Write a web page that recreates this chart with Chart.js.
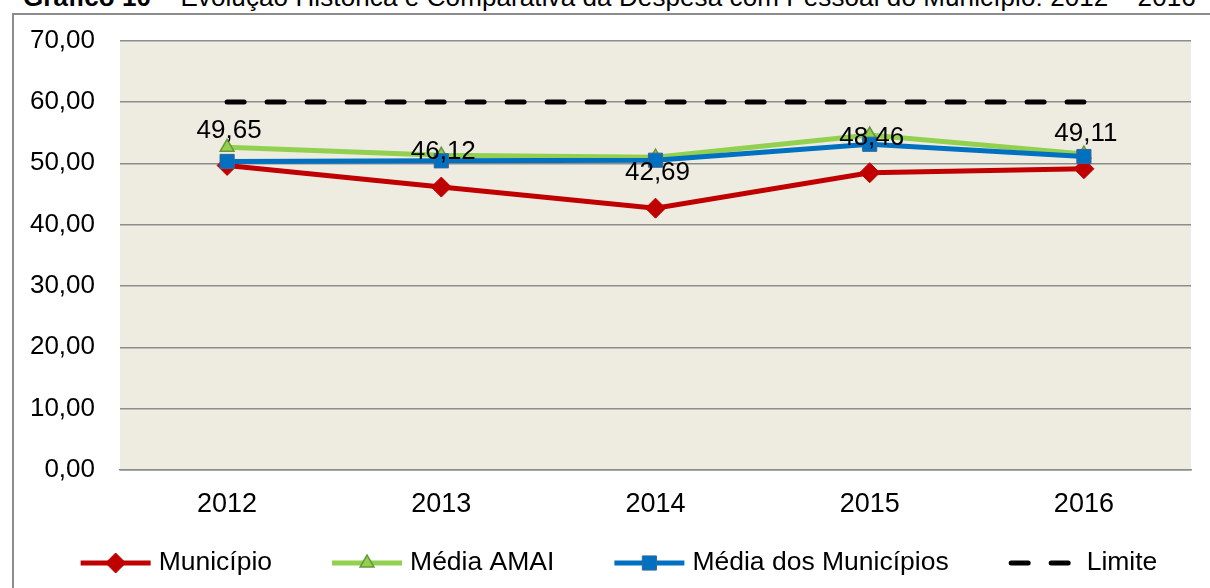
<!DOCTYPE html>
<html lang="pt">
<head>
<meta charset="utf-8">
<title>Despesa com Pessoal 2012 – 2016</title>
<script src="https://cdn.jsdelivr.net/npm/chart.js@4.4.1/dist/chart.umd.min.js"></script>
<style>
  html, body { margin: 0; padding: 0; background: #fff; }
  body { width: 1210px; height: 588px; position: relative; overflow: hidden; font-family: "Liberation Sans", Arial, sans-serif; }
  #titulo { position: absolute; left: 23px; top: -16px; font-size: 26px; line-height: 26px; white-space: nowrap; color: #000; letter-spacing: 0.1px; }
  #moldura { position: absolute; left: 12px; top: 13px; width: 1210px; height: 590px; border-left: 2px solid #8c8c8c; border-top: 2px solid #8c8c8c; }
  #caixa { position: absolute; left: 0; top: 0; width: 1210px; height: 588px; }
</style>
</head>
<body>
<div id="titulo"><b>Gráfico 10</b> – Evolução Histórica e Comparativa da Despesa com Pessoal do Município: 2012 – 2016</div>
<div id="moldura"></div>
<div id="caixa"><canvas id="graficoPessoal"></canvas></div>
<script>
  const anos = ['2012', '2013', '2014', '2015', '2016'];
  const municipio = [49.65, 46.12, 42.69, 48.46, 49.11];
  const mediaAmai = [52.6, 51.3, 51.0, 54.6, 51.5];
  const mediaMunicipios = [50.3, 50.4, 50.5, 53.1, 51.1];
  const limite = [60, 60, 60, 60, 60];
  const eixoY = { min: 0, max: 70, passo: 10 };

  const fonte = '"Liberation Sans", Arial, sans-serif';
  Chart.defaults.font.family = fonte;

  const numeroPt = v => Number(v).toFixed(2).replace('.', ',');

  // fundo bege da área de desenho
  const fundoArea = {
    id: 'fundoArea',
    beforeDraw(chart) {
      const { ctx, chartArea: a } = chart;
      ctx.save();
      ctx.fillStyle = '#EEECE1';
      ctx.fillRect(a.left, a.top, a.right - a.left, a.bottom - a.top);
      ctx.restore();
    }
  };

  // rótulos de valores só para o Município
  const rotulos = {
    id: 'rotulos',
    afterDatasetsDraw(chart) {
      const ctx = chart.ctx;
      const meta = chart.getDatasetMeta(0);
      ctx.save();
      ctx.font = '26px ' + fonte;
      ctx.fillStyle = '#000';
      ctx.textAlign = 'center';
      ctx.textBaseline = 'middle';
      meta.data.forEach((pt, i) => ctx.fillText(numeroPt(municipio[i]), pt.x + 2, pt.y - 35));
      ctx.restore();
    }
  };

  // legenda em baixo, linha + marcador como no Excel
  const legenda = {
    id: 'legenda',
    afterDraw(chart) {
      const ctx = chart.ctx;
      const y = 563;
      const amostra = 70, folga = 8, entre = 60;
      ctx.save();
      ctx.font = '26.5px ' + fonte;
      const itens = chart.data.datasets.map(ds => ({ ds, largura: ctx.measureText(ds.label).width }));
      const total = itens.reduce((s, it) => s + amostra + folga + it.largura, 0) + entre * (itens.length - 1);
      let x = chart.width / 2 + 14 - total / 2;
      itens.forEach(({ ds, largura }) => {
        ctx.save();
        ctx.strokeStyle = ds.borderColor;
        ctx.lineWidth = ds.borderWidth;
        ctx.lineCap = ds.borderDash ? 'round' : 'butt';
        ctx.setLineDash(ds.borderDash || []);
        ctx.lineDashOffset = ds.borderDash ? -2.5 : 0;
        ctx.beginPath();
        ctx.moveTo(x, y);
        ctx.lineTo(x + amostra, y);
        ctx.stroke();
        ctx.restore();
        if (ds.pointRadius > 0) {
          ctx.save();
          ctx.fillStyle = ds.pointBackgroundColor;
          ctx.strokeStyle = ds.pointBorderColor;
          ctx.lineWidth = ds.pointBorderWidth;
          Chart.helpers.drawPoint(ctx, { pointStyle: ds.pointStyle, radius: ds.pointRadius, rotation: 0, borderWidth: ds.pointBorderWidth }, x + amostra / 2, y);
          ctx.restore();
        }
        ctx.fillStyle = '#000';
        ctx.textAlign = 'left';
        ctx.textBaseline = 'middle';
        ctx.fillText(ds.label, x + amostra + folga, y);
        x += amostra + folga + largura + entre;
      });
      ctx.restore();
    }
  };

  new Chart(document.getElementById('graficoPessoal').getContext('2d'), {
    type: 'line',
    data: {
      labels: anos,
      datasets: [
        {
          label: 'Município', data: municipio, order: 3,
          borderColor: '#C00000', borderWidth: 5,
          pointStyle: 'rectRot', pointRadius: 10, pointBorderWidth: 1,
          pointBackgroundColor: '#C00000', pointBorderColor: '#C00000'
        },
        {
          label: 'Média AMAI', data: mediaAmai, order: 2,
          borderColor: '#92D050', borderWidth: 5,
          pointStyle: 'triangle', pointRadius: 8, pointBorderWidth: 1.5,
          pointBackgroundColor: '#92D050', pointBorderColor: '#6A963A'
        },
        {
          label: 'Média dos Municípios', data: mediaMunicipios, order: 1,
          borderColor: '#0070C0', borderWidth: 5,
          pointStyle: 'rect', pointRadius: 10, pointBorderWidth: 1,
          pointBackgroundColor: '#0070C0', pointBorderColor: '#3C6496'
        },
        {
          label: 'Limite', data: limite, order: 4,
          borderColor: '#000', borderWidth: 5, borderDash: [17, 23], borderCapStyle: 'round',
          pointRadius: 0
        }
      ]
    },
    options: {
      responsive: true,
      maintainAspectRatio: false,
      animation: false,
      layout: { padding: { top: 38, right: 19, left: 0, bottom: 0 } },
      plugins: { legend: { display: false }, tooltip: { enabled: false }, title: { display: false } },
      elements: { line: { tension: 0 } },
      scales: {
        x: {
          offset: true,
          grid: { display: false, drawTicks: false },
          border: { display: true, color: '#8c8c8c', width: 1.5 },
          ticks: { color: '#000', font: { size: 27 }, padding: 18 },
          afterFit: s => { s.height = 118; }
        },
        y: {
          min: eixoY.min, max: eixoY.max,
          grid: { color: '#8c8c8c', lineWidth: 1.5, drawTicks: false },
          border: { display: false },
          ticks: { stepSize: eixoY.passo, color: '#000', font: { size: 26 }, padding: 25, callback: v => numeroPt(v) },
          afterFit: s => { s.width = 120; }
        }
      }
    },
    plugins: [fundoArea, rotulos, legenda]
  });
</script>
</body>
</html>
